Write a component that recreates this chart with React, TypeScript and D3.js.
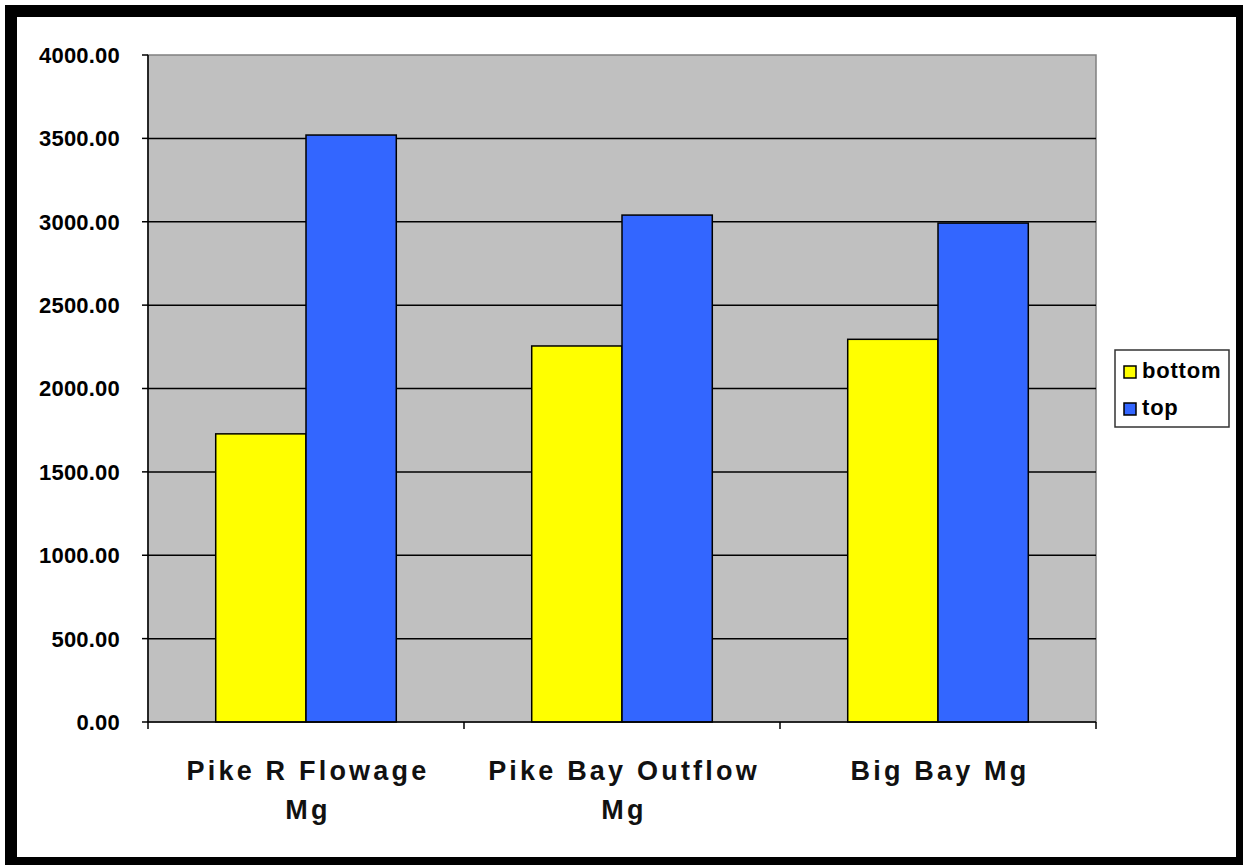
import { scaleBand, scaleLinear } from "d3";

const CATEGORIES = ["Pike R Flowage Mg", "Pike Bay Outflow Mg", "Big Bay Mg"];
const LABEL_LINES = [
  ["Pike R Flowage", "Mg"],
  ["Pike Bay Outflow", "Mg"],
  ["Big Bay Mg"],
];
const SERIES = ["bottom", "top"] as const;
const BOTTOM = [1728, 2255, 2295];
const TOP = [3520, 3040, 2992];
const Y_TICKS = [0, 500, 1000, 1500, 2000, 2500, 3000, 3500, 4000];

const COLORS: Record<string, string> = { bottom: "#FFFF00", top: "#3366FF" };

const W = 1243;
const H = 865;
const plot = { left: 148, top: 55, right: 1096, bottom: 722 };

export default function App() {
  const x0 = scaleBand<string>()
    .domain(CATEGORIES)
    .range([plot.left, plot.right]);
  const x1 = scaleBand<string>()
    .domain(SERIES as unknown as string[])
    .range([0, x0.bandwidth()])
    .paddingInner(0)
    .paddingOuter(0.75);
  const y = scaleLinear().domain([0, 4000]).range([plot.bottom, plot.top]);

  const values: Record<string, number[]> = { bottom: BOTTOM, top: TOP };
  const boundaries = [...CATEGORIES.map((c) => x0(c)!), plot.right];

  return (
    <svg
      width={W}
      height={H}
      style={{ position: "absolute", left: 0, top: 0, background: "#fff" }}
      fontFamily="'Liberation Sans', Arial, sans-serif"
    >
      {/* plot area */}
      <rect
        x={plot.left}
        y={plot.top}
        width={plot.right - plot.left}
        height={plot.bottom - plot.top}
        fill="#C0C0C0"
        stroke="#808080"
        strokeWidth={1.5}
      />
      {Y_TICKS.slice(1, -1).map((t) => (
        <line
          key={t}
          x1={plot.left}
          x2={plot.right}
          y1={y(t)}
          y2={y(t)}
          stroke="#000"
          strokeWidth={1.5}
        />
      ))}

      {/* bars */}
      {CATEGORIES.map((c, i) =>
        SERIES.map((s) => (
          <rect
            key={c + s}
            x={x0(c)! + x1(s)!}
            y={y(values[s][i])}
            width={x1.bandwidth()}
            height={y(0) - y(values[s][i])}
            fill={COLORS[s]}
            stroke="#000"
            strokeWidth={1.5}
          />
        ))
      )}

      {/* axes */}
      <line x1={plot.left} x2={plot.left} y1={plot.top} y2={plot.bottom} stroke="#000" strokeWidth={1.5} />
      <line x1={plot.left} x2={plot.right} y1={plot.bottom} y2={plot.bottom} stroke="#000" strokeWidth={1.5} />
      {Y_TICKS.map((t) => (
        <g key={t}>
          <line x1={plot.left - 6} x2={plot.left} y1={y(t)} y2={y(t)} stroke="#000" strokeWidth={1.5} />
          <text
            x={120}
            y={y(t)}
            dy="0.36em"
            textAnchor="end"
            fontSize={22}
            fontWeight="bold"
            letterSpacing={0.2}
          >
            {t.toFixed(2)}
          </text>
        </g>
      ))}
      {boundaries.map((b, i) => (
        <line key={i} x1={b} x2={b} y1={plot.bottom} y2={plot.bottom + 7} stroke="#000" strokeWidth={1.5} />
      ))}
      {CATEGORIES.map((c, i) => (
        <text
          key={c}
          x={x0(c)! + x0.bandwidth() / 2 + 2}
          y={780}
          textAnchor="middle"
          fontSize={27}
          fontWeight="bold"
          letterSpacing={3.2}
          fill="#111"
        >
          {LABEL_LINES[i].map((line, j) => (
            <tspan key={j} x={x0(c)! + x0.bandwidth() / 2 + 2} dy={j === 0 ? 0 : 39}>
              {line}
            </tspan>
          ))}
        </text>
      ))}

      {/* legend */}
      <rect x={1115} y={350} width={114} height={77} fill="#fff" stroke="#333" strokeWidth={1.5} />
      {SERIES.map((s, i) => (
        <g key={s} transform={`translate(1124, ${366 + i * 37})`}>
          <rect width={12} height={12} fill={COLORS[s]} stroke="#000" strokeWidth={1.5} />
          <text x={18} y={12} fontSize={22} fontWeight="bold" letterSpacing={0.8}>
            {s}
          </text>
        </g>
      ))}

      {/* outer frame */}
      <rect x={11} y={11} width={1231} height={852} fill="none" stroke="#000" strokeWidth={12} />
    </svg>
  );
}
